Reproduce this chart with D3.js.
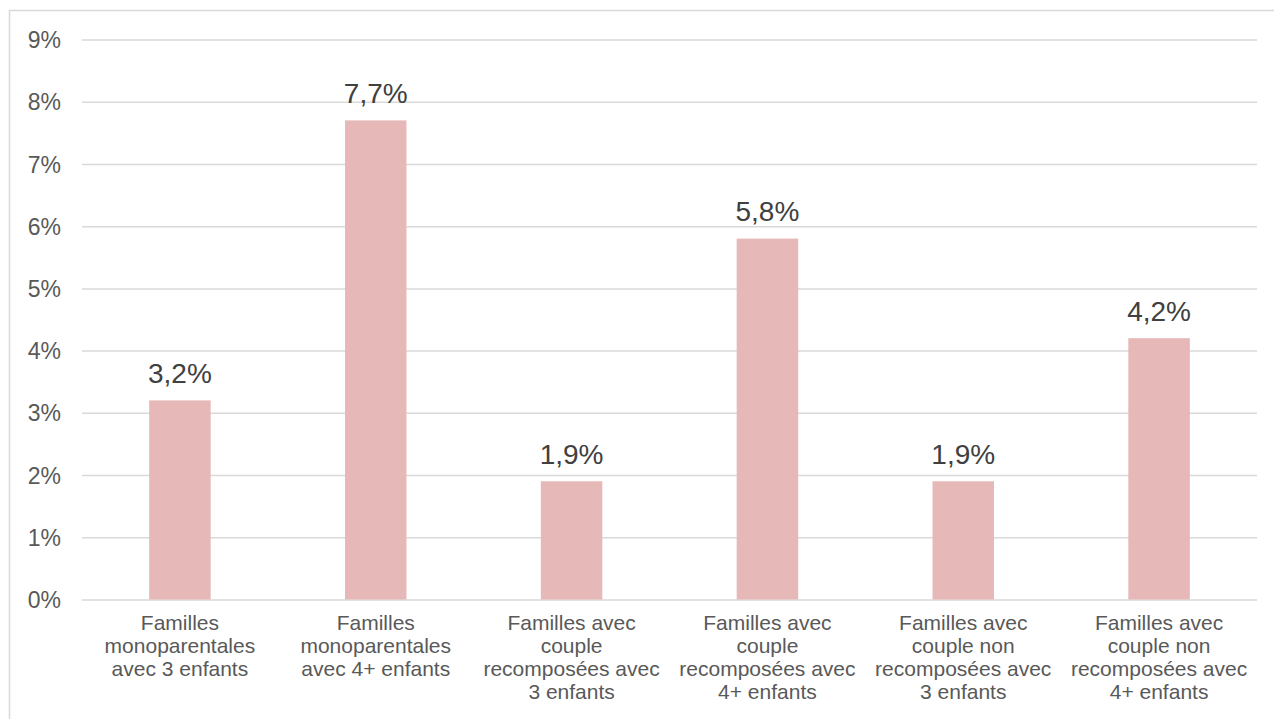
<!DOCTYPE html>
<html><head><meta charset="utf-8">
<script src="https://cdn.jsdelivr.net/npm/d3@7"></script>
<style>body{margin:0;background:#fff;}svg{display:block;font-family:"Liberation Sans",Arial,sans-serif;}</style>
</head><body><svg id="c" width="1274" height="719"></svg>
<script>
const categories = [
  ["Familles","monoparentales","avec 3 enfants"],
  ["Familles","monoparentales","avec 4+ enfants"],
  ["Familles avec","couple","recomposées avec","3 enfants"],
  ["Familles avec","couple","recomposées avec","4+ enfants"],
  ["Familles avec","couple non","recomposées avec","3 enfants"],
  ["Familles avec","couple non","recomposées avec","4+ enfants"]
];
const values = [3.2, 7.7, 1.9, 5.8, 1.9, 4.2];
const valueLabels = ["3,2%","7,7%","1,9%","5,8%","1,9%","4,2%"];
const yTicks = [0,1,2,3,4,5,6,7,8,9];

const svg = d3.select("#c");
svg.append("rect").attr("x",9.5).attr("y",10.5).attr("width",1274).attr("height",720)
  .attr("fill","#fff").attr("stroke","#d9d9d9").attr("stroke-width",1.5);

const mLeft=82, mRight=1257, mTop=39.5, mBottom=599.5;
const x = d3.scaleBand().domain(d3.range(values.length)).range([mLeft,mRight]).paddingInner(0.686).paddingOuter(0.343);
const y = d3.scaleLinear().domain([0,9]).range([mBottom,mTop]);

const yAxis = d3.axisLeft(y).tickValues(yTicks).tickSize(-(mRight-mLeft)).tickFormat(d=>d+"%");
const gy = svg.append("g").attr("transform",`translate(${mLeft},0)`).call(yAxis);
gy.select(".domain").remove();
gy.selectAll(".tick line").attr("stroke","#d9d9d9").attr("stroke-width",1.5);
gy.selectAll(".tick text").attr("x",-21).attr("fill","#595959").attr("font-size",23).attr("dy","0.35em");

svg.append("g").selectAll("rect").data(values).join("rect")
  .attr("x",(d,i)=>x(i)).attr("width",x.bandwidth())
  .attr("y",d=>y(d)).attr("height",d=>y(0)-y(d)).attr("fill","#e6b8b7");

svg.append("g").selectAll("text").data(values).join("text")
  .attr("x",(d,i)=>x(i)+x.bandwidth()/2).attr("y",d=>y(d)-17.5)
  .attr("text-anchor","middle").attr("fill","#404040").attr("font-size",28)
  .text((d,i)=>valueLabels[i]);

const gx = svg.append("g");
categories.forEach((lines,i)=>{
  const t = gx.append("text").attr("text-anchor","middle").attr("fill","#595959").attr("font-size",21);
  lines.forEach((l,j)=>{
    t.append("tspan").attr("x",x(i)+x.bandwidth()/2).attr("y",630+j*23).text(l);
  });
});
</script></body></html>
